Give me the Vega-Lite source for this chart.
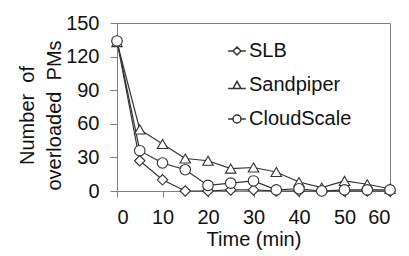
{
  "$schema": "https://vega.github.io/schema/vega-lite/v6.json",
  "width": 273,
  "height": 168,
  "autosize": {"type": "none"},
  "padding": {"left": 117, "top": 23, "right": 19, "bottom": 65},
  "background": "white",
  "config": {
    "font": "Liberation Sans",
    "view": {"stroke": "#7f7f7f", "strokeWidth": 1},
    "axis": {"grid": false, "domainColor": "#7f7f7f", "tickColor": "#7f7f7f", "labelColor": "#111", "titleColor": "#111", "labelFont": "Liberation Sans", "titleFont": "Liberation Sans", "titleFontWeight": "normal", "labelFontSize": 20, "titleFontSize": 20}
  },
  "data": {
    "values": [
      {"t": 0, "s": "SLB", "v": 134}, {"t": 5, "s": "SLB", "v": 27}, {"t": 10, "s": "SLB", "v": 10}, {"t": 15, "s": "SLB", "v": 0}, {"t": 20, "s": "SLB", "v": 0}, {"t": 25, "s": "SLB", "v": 1}, {"t": 30, "s": "SLB", "v": 1}, {"t": 35, "s": "SLB", "v": 0}, {"t": 40, "s": "SLB", "v": 0}, {"t": 45, "s": "SLB", "v": 0}, {"t": 50, "s": "SLB", "v": 0}, {"t": 55, "s": "SLB", "v": 0}, {"t": 60, "s": "SLB", "v": 0},
      {"t": 0, "s": "Sandpiper", "v": 133}, {"t": 5, "s": "Sandpiper", "v": 55}, {"t": 10, "s": "Sandpiper", "v": 42}, {"t": 15, "s": "Sandpiper", "v": 29}, {"t": 20, "s": "Sandpiper", "v": 27}, {"t": 25, "s": "Sandpiper", "v": 20}, {"t": 30, "s": "Sandpiper", "v": 21}, {"t": 35, "s": "Sandpiper", "v": 17}, {"t": 40, "s": "Sandpiper", "v": 8}, {"t": 45, "s": "Sandpiper", "v": 3}, {"t": 50, "s": "Sandpiper", "v": 9}, {"t": 55, "s": "Sandpiper", "v": 6}, {"t": 60, "s": "Sandpiper", "v": 2},
      {"t": 0, "s": "CloudScale", "v": 134}, {"t": 5, "s": "CloudScale", "v": 36}, {"t": 10, "s": "CloudScale", "v": 25}, {"t": 15, "s": "CloudScale", "v": 19}, {"t": 20, "s": "CloudScale", "v": 5}, {"t": 25, "s": "CloudScale", "v": 7}, {"t": 30, "s": "CloudScale", "v": 9}, {"t": 35, "s": "CloudScale", "v": 1}, {"t": 40, "s": "CloudScale", "v": 2}, {"t": 45, "s": "CloudScale", "v": 0}, {"t": 50, "s": "CloudScale", "v": 1}, {"t": 55, "s": "CloudScale", "v": 1}, {"t": 60, "s": "CloudScale", "v": 1}
    ]
  },
  "encoding": {
    "x": {"field": "t", "type": "quantitative", "scale": {"domain": [0, 60], "nice": false}, "axis": {"values": [0, 10, 20, 30, 40, 50, 60], "tickSize": 6, "labelPadding": 10, "title": "Time (min)", "titlePadding": 2}},
    "y": {"field": "v", "type": "quantitative", "scale": {"domain": [0, 150], "nice": false}, "axis": {"values": [0, 30, 60, 90, 120, 150], "tickSize": 7, "labelPadding": 11, "title": ["Number\u00a0\u00a0of", "overloaded\u00a0\u00a0PMs"], "titleLineHeight": 27, "titlePadding": 1, "titleY": 92}}
  },
  "layer": [
    {
      "mark": {"type": "line", "color": "#333", "strokeWidth": 1.2, "point": {"filled": false, "fill": "white", "stroke": "#333", "strokeWidth": 1.1, "size": 110}},
      "encoding": {
        "detail": {"field": "s"},
        "shape": {"field": "s", "type": "nominal", "scale": {"domain": ["SLB", "Sandpiper", "CloudScale"], "range": ["diamond", "triangle-up", "circle"]}, "legend": null}
      }
    },
    {
      "mark": {"type": "point", "opacity": 0, "filled": false, "color": "#333", "stroke": "#333"},
      "encoding": {
        "shape": {"field": "s", "type": "nominal", "scale": {"domain": ["SLB", "Sandpiper", "CloudScale"], "range": ["M-2.2,0L-1,0M1,0L2.2,0M-1,0L0,-1L1,0L0,1Z", "M-2.2,0.9L2.2,0.9M-1,0.9L0,-0.9L1,0.9Z", "M-2.2,0L-1,0M1,0L2.2,0M-1,0A1,1,0,1,1,1,0A1,1,0,1,1,-1,0Z"]},
          "legend": {"title": null, "orient": "none", "legendX": 110, "legendY": 18, "labelFontSize": 20, "labelColor": "#111", "labelFont": "Liberation Sans", "rowPadding": 14, "labelOffset": 2, "symbolSize": 64, "symbolStrokeColor": "#333", "symbolFillColor": "white",
            "encode": {"symbols": {"update": {"stroke": {"value": "#333"}, "fill": {"value": "white"}, "strokeWidth": {"value": 1.1}, "opacity": {"value": 1}, "fillOpacity": {"value": 1}, "strokeOpacity": {"value": 1}, "size": {"value": 64}}}}}
        }
      }
    }
  ],
  "resolve": {"scale": {"shape": "independent"}}
}
